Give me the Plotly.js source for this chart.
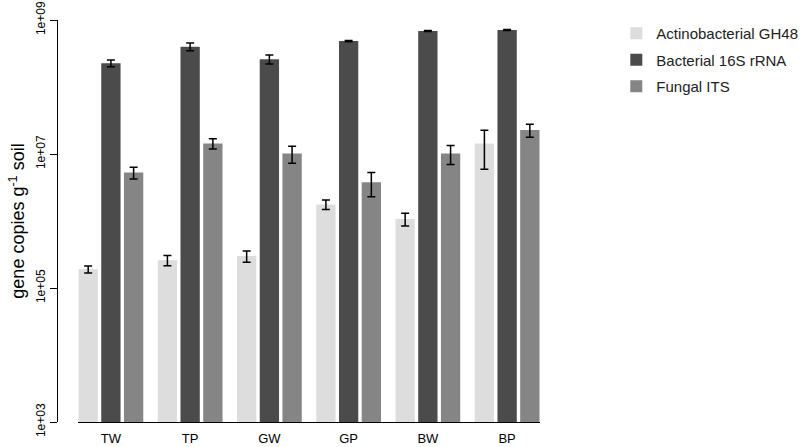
<!DOCTYPE html>
<html>
<head>
<meta charset="utf-8">
<script src="https://cdn.plot.ly/plotly-3.0.1.min.js"></script>
<style>
  html, body { margin: 0; padding: 0; background: #fff; }
  #plot { width: 800px; height: 447px; }
</style>
</head>
<body>
<div id="plot"></div>
<script>
/* soil sites */
var sites = ['TW', 'TP', 'GW', 'GP', 'BW', 'BP'];

/* mean gene copies per g soil */
var actino = [1.9e5, 2.6e5, 3.0e5, 1.77e6, 1.07e6, 1.43e7];
var bact16s = [2.26e8, 4.0e8, 2.6e8, 4.85e8, 6.85e8, 7.1e8];
var fungal = [5.3e6, 1.44e7, 1.02e7, 3.8e6, 1.02e7, 2.28e7];

/* standard errors (linear) */
var actinoErr = [2.3e4, 4.6e4, 5.7e4, 2.9e5, 2.3e5, 8.4e6];
var bact16sErr = [2.6e7, 5.2e7, 4.0e7, 1.0e7, 1.0e7, 1.0e7];
var fungalErr = [1.05e6, 2.5e6, 2.9e6, 1.5e6, 3.2e6, 5.0e6];

var names = ['Actinobacterial GH48', 'Bacterial 16S rRNA', 'Fungal ITS'];
var cols = ['#dddddd', '#4b4b4b', '#858585'];

function mk(i, y, err){
    return {
        type: 'bar',
        name: names[i],
        legendgroup: 'g' + i,
        x: sites,
        y: y,
        marker: { color: cols[i], line: { width: 0 } },
        error_y: {
            type: 'data',
            array: err,
            visible: true,
            color: '#000',
            thickness: 1.5,
            width: 4
        }
    };
}

var data = [mk(0, actino, actinoErr), mk(1, bact16s, bact16sErr), mk(2, fungal, fungalErr)];

var layout = {
    width: 800,
    height: 447,
    margin: { l: 57, r: 260, t: 20, b: 25, pad: 0, autoexpand: false },
    paper_bgcolor: '#fff',
    plot_bgcolor: '#fff',
    font: { family: 'Liberation Sans, Arial, sans-serif', size: 12, color: '#000' },
    barmode: 'group',
    bargap: 0.14,
    bargroupgap: 0.15,
    showlegend: true,
    legend: {
        x: 1.158,
        y: 1.0075,
        xanchor: 'left',
        yanchor: 'top',
        font: { size: 15, color: '#222' },
        tracegroupgap: 4,
        itemwidth: 30,
        bgcolor: 'rgba(0,0,0,0)'
    },
    xaxis: {
        domain: [0.0435, 1],
        range: [-0.415, 5.415],
        showline: true,
        linecolor: '#000',
        linewidth: 1,
        ticks: 'outside',
        ticklen: 4,
        tickcolor: 'rgba(0,0,0,0)',
        showgrid: false,
        zeroline: false,
        tickfont: { size: 13 }
    },
    yaxis: {
        type: 'log',
        range: [3, 9],
        anchor: 'free',
        position: 0,
        showline: true,
        linecolor: '#000',
        linewidth: 1,
        ticks: 'outside',
        ticklen: 7,
        tickcolor: '#000',
        tickvals: [1e3, 1e5, 1e7, 1e9],
        ticktext: ['1e+03', '1e+05', '1e+07', '1e+09'],
        tickangle: -90,
        tickfont: { size: 12 },
        showgrid: false,
        zeroline: false,
        title: { text: 'gene copies g<sup>-1</sup> soil', font: { size: 18 }, standoff: 3 }
    }
};

Plotly.newPlot('plot', data, layout, { displayModeBar: false, staticPlot: true });
</script>
</body>
</html>
